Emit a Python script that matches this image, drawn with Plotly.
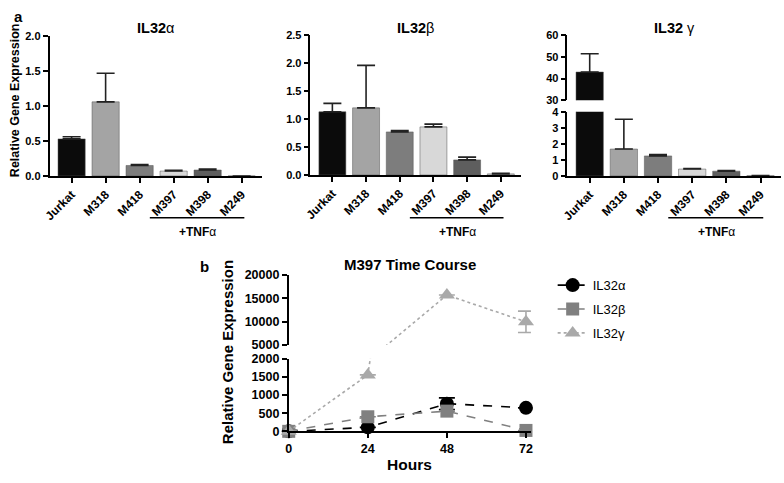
import plotly.graph_objects as go

# ---------------- data ----------------
cats = ["Jurkat", "M318", "M418", "M397", "M398", "M249"]
bar_colors = ["#0b0b0b", "#a4a4a4", "#7d7d7d", "#d8d8d8", "#5e5e5e", "#e2e2e2"]

il32a_mean = [0.53, 1.06, 0.15, 0.07, 0.085, 0.0]
il32a_err = [0.03, 0.41, 0.012, 0.012, 0.012, 0.0]

il32b_mean = [1.13, 1.20, 0.77, 0.86, 0.27, 0.02]
il32b_err = [0.15, 0.76, 0.025, 0.05, 0.05, 0.01]

il32g_mean = [43.0, 1.68, 1.25, 0.43, 0.30, 0.02]
il32g_err = [8.4, 1.86, 0.08, 0.03, 0.04, 0.0]

hours = [0, 24, 48, 72]
tc_names = ["IL32α", "IL32β", "IL32γ"]
tc_a = [0, 110, 760, 645]
tc_a_err = [0, 0, 160, 0]
tc_b = [0, 400, 555, 25]
tc_b_err = [0, 0, 0, 0]
tc_g = [0, 1550, 15700, 9950]
tc_g_err = [0, 0, 0, 2300]

FONT = "Arial, Liberation Sans, sans-serif"
W, H = 784, 483


def px(x):
    return x / W


def py(y):
    return 1 - y / H


fig = go.Figure()


def add_bars(xa, ya, mean, err):
    fig.add_trace(go.Bar(
        x=cats, y=mean, xaxis=xa, yaxis=ya, width=0.8,
        marker=dict(color=bar_colors, line=dict(color="#555", width=0.5)),
        error_y=dict(type="data", symmetric=False, array=err,
                     arrayminus=[0] * len(err), color="#222", thickness=1.6, width=9),
        showlegend=False, hoverinfo="x+y"))


add_bars("x", "y", il32a_mean, il32a_err)
add_bars("x2", "y2", il32b_mean, il32b_err)
add_bars("x3", "y3", il32g_mean, il32g_err)
add_bars("x3", "y4", il32g_mean, il32g_err)

# ---------------- time course ----------------
tc_styles = [
    dict(color="#000000", dash="dash", symbol="circle", size=14),
    dict(color="#808080", dash="dash", symbol="square", size=13),
    dict(color="#a9a9a9", dash="dot", symbol="triangle-up", size=14),
]
tc_vals = [tc_a, tc_b, tc_g]
tc_errs = [tc_a_err, tc_b_err, tc_g_err]
ranges = {"y5": (0, 2000), "y6": (5000, 20000)}

for name, vals, errs, st in zip(tc_names, tc_vals, tc_errs, tc_styles):
    for ya in ("y5", "y6"):
        lo, hi = ranges[ya]
        # full line, clipped to each part of the broken axis
        fig.add_trace(go.Scatter(
            x=hours, y=vals, xaxis="x4", yaxis=ya, mode="lines",
            line=dict(color=st["color"], dash=st["dash"], width=1.6),
            showlegend=False, hoverinfo="skip"))
        inr = [v if lo <= v <= hi else None for v in vals]
        er = [e if lo <= v <= hi else 0 for v, e in zip(vals, errs)]
        fig.add_trace(go.Scatter(
            x=hours, y=inr, xaxis="x4", yaxis=ya, mode="markers",
            cliponaxis=False,
            marker=dict(symbol=st["symbol"], size=st["size"], color=st["color"]),
            error_y=dict(type="data", array=er, color=st["color"], thickness=1.6, width=8),
            showlegend=False))
    # legend entry
    fig.add_trace(go.Scatter(
        x=[None], y=[None], xaxis="x4", yaxis="y5", mode="lines+markers", name=name,
        legendgroup=name,
        line=dict(color=st["color"], dash=st["dash"], width=1.6),
        marker=dict(symbol=st["symbol"], size=st["size"], color=st["color"])))

tf_a = dict(family=FONT, size=11, color="black", weight="bold")
axis_common = dict(showline=True, linecolor="black", linewidth=1.6, ticks="outside",
                   ticklen=5, tickwidth=1.6, tickcolor="black", showgrid=False,
                   zeroline=False, tickfont=tf_a)

xa_cat = dict(axis_common, type="category", range=[-0.65, 5.6], tickangle=-45, fixedrange=True,
              tickfont=dict(family=FONT, size=12, color="black", weight="bold"))
tf_b = dict(family=FONT, size=12.5, color="black", weight="bold")

layout = dict(
    width=W, height=H, margin=dict(l=0, r=0, t=0, b=0),
    paper_bgcolor="white", plot_bgcolor="white",
    font=dict(family=FONT, color="black"),
    xaxis=dict(xa_cat, domain=[px(43), px(258)], anchor="y"),
    yaxis=dict(axis_common, domain=[py(174), py(30)], range=[0, 2.0], dtick=0.5,
               tickformat=".1f", anchor="x"),
    xaxis2=dict(xa_cat, domain=[px(307), px(520)], anchor="y2"),
    yaxis2=dict(axis_common, domain=[py(173), py(29)], range=[0, 2.5], dtick=0.5,
                tickformat=".1f", anchor="x2"),
    xaxis3=dict(xa_cat, domain=[px(567), px(783)], anchor="y3"),
    yaxis3=dict(axis_common, domain=[py(174), py(108)], range=[0, 4], dtick=1, anchor="x3"),
    yaxis4=dict(axis_common, domain=[py(96), py(29)], range=[30, 60], dtick=10, anchor="x3"),
    xaxis4=dict(axis_common, domain=[px(285), px(530)], range=[0, 73.5],
                tickvals=hours, anchor="y5", tickfont=tf_b),
    yaxis5=dict(axis_common, domain=[py(437), py(362)], range=[0, 2000], dtick=500, anchor="x4",
                tickformat="d", tickfont=tf_b),
    yaxis6=dict(axis_common, domain=[py(348), py(276)], range=[5000, 20000], dtick=5000,
                tickformat="d", anchor="x4", tickfont=tf_b),
    legend=dict(x=px(552), y=py(271), xanchor="left", yanchor="top", tracegroupgap=4,
                font=dict(family=FONT, size=13, color="black"), bgcolor="rgba(0,0,0,0)"),
    bargap=0.2,
)
fig.update_layout(**layout)

ann = []
titles = [("x", "IL32", "α"), ("x2", "IL32", "β"), ("x3", "IL32 ", "γ")]
for xa, t, g in titles:
    ann.append(dict(xref=xa + " domain", yref="paper", x=0.5, y=py(22), text=f"<b>{t}</b>{g}",
                    showarrow=False, font=dict(family=FONT, size=14.5, color="black"),
                    xanchor="center", yanchor="middle"))
    ann.append(dict(xref=xa, yref="paper", x=3.7, y=py(232), text="<b>+TNF</b>α",
                    showarrow=False, font=dict(family=FONT, size=12, color="black"),
                    xanchor="center", yanchor="middle"))
    fig.add_shape(type="line", xref=xa, yref="paper", x0=2.3, x1=5.08, y0=py(217), y1=py(217),
                  line=dict(color="black", width=1.6))

ann += [
    dict(xref="paper", yref="paper", x=px(5), y=py(10), text="<b>a</b>", showarrow=False,
         font=dict(family=FONT, size=15, color="black"), xanchor="left", yanchor="middle"),
    dict(xref="paper", yref="paper", x=px(193), y=py(267), text="<b>b</b>", showarrow=False,
         font=dict(family=FONT, size=15, color="black"), xanchor="left", yanchor="middle"),
    dict(xref="paper", yref="paper", x=px(8), y=py(96), text="<b>Relative Gene Expression</b>",
         textangle=-90, showarrow=False, font=dict(family=FONT, size=12.5, color="black"),
         xanchor="center", yanchor="middle"),
    dict(xref="paper", yref="paper", x=px(223), y=py(355), text="<b>Relative Gene Expression</b>",
         textangle=-90, showarrow=False, font=dict(family=FONT, size=15, color="black"),
         xanchor="center", yanchor="middle"),
    dict(xref="x4 domain", yref="paper", x=0.5, y=py(265), text="<b>M397 Time Course</b>",
         showarrow=False, font=dict(family=FONT, size=15, color="black"),
         xanchor="center", yanchor="middle"),
    dict(xref="x4 domain", yref="paper", x=0.5, y=py(471), text="<b>Hours</b>",
         showarrow=False, font=dict(family=FONT, size=15.5, color="black"),
         xanchor="center", yanchor="middle"),
]
fig.update_layout(annotations=ann)

fig.write_html("out.html", config={"displayModeBar": False},
               post_script="document.body.style.margin='0';document.body.style.overflow='hidden';")
